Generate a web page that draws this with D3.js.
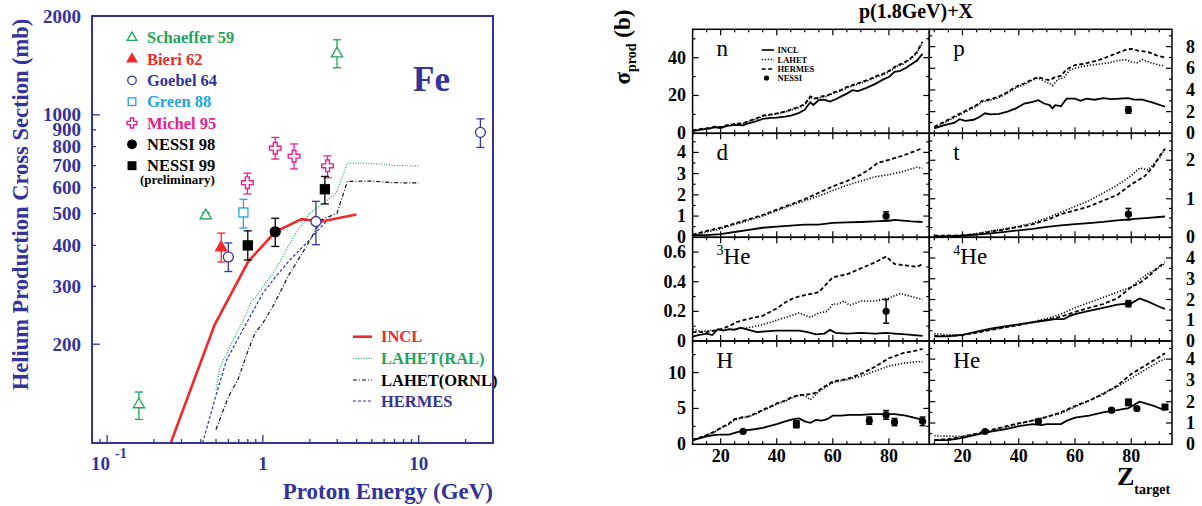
<!DOCTYPE html>
<html><head><meta charset="utf-8">
<script src="https://cdn.jsdelivr.net/npm/d3@7"></script>
<style>
body{margin:0;background:#fff}
svg{display:block}
text{font-family:"Liberation Serif","Times New Roman",Times,serif;font-weight:bold}
</style>
</head><body>
<script>
// ===================== LEFT CHART DATA (Fe) =====================
const energyTickMajor = [0.1, 1, 10];
const energyTickMinor = [0.09,0.2,0.3,0.4,0.5,0.6,0.7,0.8,0.9,2,3,4,5,6,7,8,9,20];
const sigmaTicks = [200,300,400,500,600,700,800,900,1000,2000];
const sigmaTickLabels = ["200","300","400","500","600","700","800","900","1000","2000"];

// experimental points: [E (GeV), sigma (mb), low, high]
const schaeffer59 = [[0.16,131,118,143],[0.43,493,483,503],[2.99,1535,1391,1693]];
const bieri62 = [[0.54,394,356,436]];
const goebel64 = [[0.60,369,333,407],[2.19,473,402,545],[24.9,884,795,972]];
const green88 = [[0.75,504,452,553]];
const michel95 = [[0.795,621,574,664],[1.2,791,733,853],[1.585,748,684,815],[2.6,699,643,750]];
const nessi98 = [[1.2,440,397,484]];
const nessi99 = [[0.8,400,361,443],[2.5,593,535,649]];

// model curves: [E, sigma]
const inclFe = [[0.256,100],[0.49,229],[0.805,357],[1.2,440],[1.77,481],[2.38,473],[3.98,497]];
const lahetRalFe = [[0.5,145],[0.53,170],[0.585,187],[0.645,206],[0.7,222],[0.785,248],[0.85,272],[0.91,279],[1.0,300],[1.16,329],[1.3,360],[1.49,406],[1.7,450],[2.0,501],[2.4,535],[2.96,577],[3.49,713],[4.5,712],[5.9,707],[7.0,700],[10,699]];
const lahetOrnlFe = [[0.5,110],[0.6,138],[0.695,157],[0.805,192],[0.89,216],[1.0,232],[1.16,261],[1.3,290],[1.45,322],[1.9,397],[2.38,479],[2.99,501],[3.49,627],[5.0,628],[6.9,621],[10,620]];
const hermesFe = [[0.41,100],[0.505,142],[0.585,179],[0.7,210],[0.805,237],[1.0,286],[1.2,320],[1.49,361],[1.9,406],[2.38,457],[2.6,478]];

// ===================== RIGHT CHART DATA p(1.8GeV)+X =====================
const zTicksMajor = [20,40,60,80];
// curves: [Z, sigma (b)]
const nINCL = [[10,1.2],[13,2],[16,2.5],[18,3.2],[20,2.8],[22,3.8],[25,4.5],[28,4.2],[30,5.3],[33,6.5],[35,7.6],[38,8.2],[40,8.3],[43,8.8],[45,9.4],[48,10.8],[50,12.5],[52,16.5],[53,15],[55,17.5],[57,17.8],[59,16.8],[61,18],[63,19.5],[65,21],[67,22.8],[69,22.3],[72,24],[75,26],[78,28.5],[80,29.8],[82,32.5],[84,33],[86,34.5],[88,36.5],[90,38.5],[92,42]];
const nHERMES = [[10,1.5],[13,2.3],[16,2.8],[18,3.5],[20,3.3],[22,4.2],[25,5],[28,5.3],[30,6.5],[33,8],[35,9.3],[38,10],[40,10.5],[43,11.5],[45,12.5],[48,14],[50,15.5],[52,19.5],[54,18.5],[56,19.5],[58,20],[60,21.5],[63,23],[65,24.5],[68,26],[70,27],[73,28.5],[75,30],[78,31.5],[80,33],[83,36],[85,37],[88,40],[90,43],[92,48.5]];
const nLAHET = [[10,1.4],[13,2.1],[16,2.7],[18,3.3],[20,3.1],[22,4],[25,4.8],[28,5.1],[30,6.2],[33,7.6],[35,9],[38,9.7],[40,10.2],[43,11.2],[45,12.2],[48,13.6],[50,15],[52,19],[54,18],[56,19],[58,19.6],[60,21],[63,22.5],[65,24],[68,25.5],[70,26.5],[73,28],[75,29.5],[78,31],[80,32.5],[83,35.5],[85,36.5],[88,39.5],[90,42.5],[92,48]];
const nNESSI = [];

const pINCL = [[10,0.45],[13,0.7],[15,0.85],[17,0.95],[19,1.3],[21,1.15],[24,1.25],[26,1.5],[28,1.85],[30,1.75],[33,1.8],[36,2.0],[39,2.3],[42,2.75],[45,2.9],[47,3.05],[49,2.75],[51,2.6],[52,2.3],[53,2.6],[55,2.5],[57,3.2],[60,3.2],[62,3.0],[64,3.2],[67,3.1],[70,3.25],[73,3.15],[76,3.2],[79,3.25],[81,3.1],[84,3.1],[88,2.8],[92,2.45]];
const pHERMES = [[10,0.6],[13,1.0],[16,1.4],[19,1.8],[22,2.2],[25,2.6],[27,3.0],[30,3.15],[33,3.4],[36,3.8],[39,4.3],[42,4.6],[45,5.0],[47,5.2],[49,5.0],[51,4.9],[53,5.2],[55,5.3],[57,5.9],[60,6.3],[63,6.4],[66,6.6],[69,6.8],[72,7.1],[75,7.4],[78,7.7],[80,7.8],[83,7.6],[86,7.5],[89,7.2],[92,7.0]];
const pLAHET = [[10,0.5],[13,0.9],[16,1.3],[19,1.7],[22,2.1],[25,2.5],[27,2.9],[30,3.05],[33,3.3],[36,3.7],[39,4.2],[42,4.5],[45,4.9],[47,5.1],[49,4.8],[51,4.6],[52,4.4],[54,5.0],[56,5.1],[58,5.8],[60,6.0],[63,6.2],[66,6.3],[69,6.4],[72,6.5],[75,6.7],[78,6.8],[80,6.6],[82,6.5],[84,6.8],[87,6.5],[90,6.3],[92,6.2]];
const pNESSI = [[79,2.15,0.3,"c"]];

const dINCL = [[10,0.1],[15,0.1],[20,0.15],[25,0.25],[30,0.35],[35,0.45],[40,0.5],[45,0.55],[50,0.6],[55,0.6],[60,0.68],[65,0.7],[70,0.72],[75,0.75],[80,0.78],[82,0.82],[84,0.8],[88,0.75],[92,0.72]];
const dHERMES = [[10,0.12],[15,0.3],[20,0.45],[25,0.65],[30,0.85],[35,1.05],[40,1.3],[45,1.55],[50,1.8],[55,2.1],[60,2.4],[65,2.65],[70,2.95],[73,3.2],[76,3.5],[80,3.65],[85,3.85],[90,4.1],[92,4.2]];
const dLAHET = [[10,0.1],[15,0.25],[20,0.4],[25,0.6],[30,0.8],[35,1.0],[40,1.25],[45,1.5],[50,1.72],[55,1.95],[60,2.2],[65,2.45],[70,2.65],[75,2.85],[80,2.95],[85,3.1],[90,3.3],[92,3.25]];
const dNESSI = [[79,1.0,0.2,"c"]];

const tINCL = [[10,0.02],[20,0.04],[25,0.07],[30,0.1],[35,0.14],[40,0.18],[45,0.22],[50,0.27],[55,0.31],[60,0.34],[65,0.37],[70,0.4],[75,0.44],[80,0.47],[85,0.5],[92,0.54]];
const tHERMES = [[10,0.04],[15,0.04],[20,0.05],[25,0.08],[30,0.15],[35,0.2],[40,0.27],[45,0.34],[50,0.45],[55,0.6],[60,0.7],[65,0.8],[70,0.95],[75,1.1],[80,1.37],[85,1.6],[88,1.85],[90,2.1],[92,2.3]];
const tLAHET = [[10,0.03],[15,0.03],[20,0.05],[25,0.1],[30,0.16],[35,0.22],[40,0.29],[45,0.37],[50,0.5],[55,0.65],[60,0.8],[65,0.95],[70,1.15],[75,1.35],[78,1.5],[80,1.6],[83,1.8],[86,1.75],[90,2.05],[92,2.3]];
const tNESSI = [[79,0.6,0.15,"c"]];

const he3INCL = [[10,0.03],[12,0.04],[15,0.05],[17,0.04],[19,0.08],[21,0.07],[23,0.08],[25,0.075],[27,0.09],[29,0.08],[31,0.07],[33,0.06],[36,0.065],[40,0.07],[45,0.07],[48,0.07],[51,0.06],[54,0.045],[57,0.05],[59,0.075],[61,0.055],[65,0.05],[70,0.055],[75,0.05],[79,0.055],[82,0.05],[86,0.045],[92,0.035]];
const he3HERMES = [[10,0.06],[15,0.06],[18,0.07],[20,0.08],[23,0.1],[26,0.13],[30,0.15],[35,0.17],[40,0.22],[43,0.26],[46,0.29],[50,0.31],[55,0.33],[58,0.39],[60,0.43],[65,0.45],[70,0.49],[75,0.53],[79,0.57],[82,0.52],[86,0.51],[90,0.5],[92,0.52]];
const he3LAHET = [[10,0.08],[13,0.065],[16,0.07],[20,0.075],[25,0.08],[30,0.09],[35,0.11],[40,0.14],[45,0.17],[48,0.19],[50,0.175],[52,0.16],[55,0.19],[58,0.2],[60,0.25],[62,0.25],[64,0.27],[66,0.24],[70,0.27],[75,0.27],[80,0.29],[84,0.32],[88,0.3],[92,0.28]];
const he3NESSI = [[79,0.2,0.08,"c"]];

const he4INCL = [[10,0.22],[15,0.22],[20,0.3],[25,0.45],[30,0.6],[35,0.7],[40,0.8],[45,0.9],[50,1.0],[53,1.05],[56,1.05],[58,1.2],[60,1.3],[65,1.45],[70,1.6],[75,1.75],[80,1.82],[83,2.05],[86,1.9],[90,1.65],[92,1.55]];
const he4HERMES = [[10,0.25],[15,0.25],[20,0.28],[25,0.4],[30,0.53],[35,0.65],[40,0.77],[45,0.9],[50,1.03],[55,1.17],[60,1.4],[65,1.6],[70,1.78],[75,2.05],[80,2.6],[83,2.8],[86,3.1],[90,3.6],[92,3.8]];
const he4LAHET = [[10,0.35],[15,0.3],[20,0.3],[25,0.42],[30,0.55],[35,0.67],[40,0.8],[45,0.93],[50,1.08],[55,1.3],[60,1.6],[65,1.85],[70,2.1],[75,2.35],[80,2.6],[83,2.95],[86,3.25],[90,3.55],[92,3.75]];
const he4NESSI = [[79,1.8,0.15,"c"]];

const hINCL = [[10,0.55],[13,0.9],[15,1.1],[18,1.3],[20,1.35],[23,1.35],[25,1.6],[28,1.9],[32,2.1],[35,2.3],[38,2.6],[40,2.8],[43,3.2],[46,3.5],[48,3.6],[50,3.2],[52,3.0],[54,3.4],[56,3.3],[58,3.5],[60,4.0],[63,4.0],[66,4.1],[70,4.1],[74,4.2],[78,4.2],[82,4.2],[86,4.0],[90,3.6],[92,3.4]];
const hHERMES = [[10,0.65],[13,1.0],[15,1.3],[18,1.8],[20,2.3],[23,2.9],[25,3.5],[28,3.8],[30,3.9],[33,4.4],[35,4.8],[38,5.3],[40,5.7],[43,6.1],[45,6.5],[48,6.9],[50,6.9],[52,7.0],[54,7.2],[56,7.8],[60,8.75],[65,9.1],[70,9.8],[75,10.8],[80,12.0],[85,12.7],[90,13.1],[92,13.3]];
const hLAHET = [[10,0.6],[13,0.95],[15,1.25],[18,1.75],[20,2.2],[23,2.8],[25,3.4],[28,3.7],[30,3.85],[33,4.3],[35,4.7],[38,5.2],[40,5.6],[43,6.0],[45,6.4],[48,6.8],[50,6.8],[52,6.2],[54,7.0],[56,7.6],[60,8.6],[65,9.0],[70,9.5],[75,10.2],[80,10.9],[85,11.3],[90,11.5],[92,11.5]];
const hNESSI = [[28,1.8,0.2,"c"],[47,2.8,0.5,"s"],[73,3.3,0.5,"c"],[79,4.1,0.6,"c"],[82,3.1,0.5,"c"],[92,3.2,0.6,"c"]];

const heINCL = [[10,0.2],[15,0.2],[20,0.3],[25,0.45],[30,0.6],[35,0.7],[40,0.85],[45,0.95],[48,0.9],[50,0.95],[55,0.95],[57,1.1],[60,1.25],[65,1.35],[70,1.5],[75,1.6],[79,1.7],[83,2.0],[88,1.8],[92,1.6]];
const heHERMES = [[10,0.2],[15,0.25],[20,0.35],[25,0.5],[30,0.67],[35,0.83],[40,0.99],[45,1.12],[50,1.28],[55,1.5],[60,1.8],[65,2.05],[70,2.35],[75,2.75],[80,3.3],[85,3.7],[90,4.1],[92,4.27]];
const heLAHET = [[10,0.4],[15,0.38],[20,0.38],[25,0.5],[30,0.62],[35,0.78],[40,0.95],[45,1.12],[50,1.3],[55,1.45],[60,1.75],[65,2.05],[70,2.4],[75,2.7],[80,3.1],[85,3.5],[90,3.9],[92,4.0]];
const heNESSI = [[28,0.6,0.08,"c"],[47,1.08,0.1,"c"],[73,1.6,0.08,"c"],[79,1.97,0.15,"s"],[82,1.68,0.08,"c"],[92,1.75,0.1,"s"]];

// ===================== DRAWING =====================
const W = 1202, H = 506;
const BLUE = "#333399";
const svg = d3.select("body").append("svg").attr("width", W).attr("height", H);
const defs = svg.append("defs");

// ---------- Left chart ----------
const L = {x0: 92, x1: 493, y0: 16, y1: 443};
const xL = d3.scaleLog().domain([0.08, 30]).range([L.x0, L.x1]);
const yL = d3.scaleLog().domain([100, 2000]).range([L.y1, L.y0]);
defs.append("clipPath").attr("id", "clipL").append("rect")
  .attr("x", L.x0).attr("y", L.y0).attr("width", L.x1 - L.x0).attr("height", L.y1 - L.y0);
const gL = svg.append("g");

// ticks
sigmaTicks.forEach((v, i) => {
  if (v < 2000) {
    const len = (v === 1000 || v === 200) ? 8 : 4;
    gL.append("line").attr("x1", L.x0).attr("x2", L.x0 + len).attr("y1", yL(v)).attr("y2", yL(v))
      .attr("stroke", BLUE).attr("stroke-width", 1.3);
  }
  gL.append("text").attr("x", 81).attr("y", yL(v) + 6.5).attr("text-anchor", "end")
    .attr("font-size", 19).attr("fill", BLUE).text(sigmaTickLabels[i]);
});
energyTickMajor.forEach(v => {
  gL.append("line").attr("x1", xL(v)).attr("x2", xL(v)).attr("y1", L.y1).attr("y2", L.y1 - 8)
    .attr("stroke", BLUE).attr("stroke-width", 1.3);
});
energyTickMinor.forEach(v => {
  gL.append("line").attr("x1", xL(v)).attr("x2", xL(v)).attr("y1", L.y1).attr("y2", L.y1 - 4)
    .attr("stroke", BLUE).attr("stroke-width", 1.3);
});
// x labels
gL.append("text").attr("x", xL(0.1) + 3).attr("y", 470).attr("text-anchor", "end")
  .attr("font-size", 19).attr("fill", BLUE).text("10");
gL.append("text").attr("x", xL(0.1) + 8).attr("y", 458).attr("text-anchor", "start")
  .attr("font-size", 14).attr("fill", BLUE).text("-1");
gL.append("text").attr("x", xL(1)).attr("y", 470).attr("text-anchor", "middle")
  .attr("font-size", 19).attr("fill", BLUE).text("1");
gL.append("text").attr("x", xL(10)).attr("y", 470).attr("text-anchor", "middle")
  .attr("font-size", 19).attr("fill", BLUE).text("10");

// axis titles
gL.append("text").attr("transform", `translate(28,${(L.y0 + 393) / 2}) rotate(-90)`)
  .attr("text-anchor", "middle").attr("font-size", 22.5).attr("fill", BLUE)
  .text("Helium Production Cross Section (mb)");
gL.append("text").attr("x", 493).attr("y", 499).attr("text-anchor", "end")
  .attr("font-size", 23).attr("fill", BLUE).text("Proton Energy (GeV)");
gL.append("text").attr("x", 413).attr("y", 91).attr("font-size", 35).attr("fill", BLUE).text("Fe");

// curves
const lineL = d3.line().x(d => xL(d[0])).y(d => yL(d[1]));
const gCurves = gL.append("g").attr("clip-path", "url(#clipL)");
const modelStyles = [
  {data: lahetRalFe, color: "#1fa35a", dash: "1,1.6", w: 1.2, name: "LAHET(RAL)"},
  {data: lahetOrnlFe, color: "#111", dash: "4,2,1,2", w: 1.2, name: "LAHET(ORNL)"},
  {data: hermesFe, color: "#3535a0", dash: "3,2", w: 1.2, name: "HERMES"},
  {data: inclFe, color: "#ee2a2a", dash: null, w: 2.6, name: "INCL"}
];
modelStyles.forEach(s => {
  gCurves.append("path").attr("d", lineL(s.data)).attr("fill", "none")
    .attr("stroke", s.color).attr("stroke-width", s.w).attr("stroke-dasharray", s.dash);
});

// markers
function marker(g, type, x, y, color, scale) {
  const k = scale || 1;
  if (type === "triOpen" || type === "triFill") {
    g.append("path").attr("transform", `translate(${x},${y})`)
      .attr("d", d3.symbol().type(d3.symbolTriangle).size(55 * k * k)())
      .attr("fill", type === "triFill" ? color : "#fff").attr("stroke", color).attr("stroke-width", 1.3);
  } else if (type === "circOpen" || type === "circFill") {
    g.append("circle").attr("cx", x).attr("cy", y).attr("r", 5 * k)
      .attr("fill", type === "circFill" ? color : "#fff").attr("stroke", color).attr("stroke-width", 1.3);
  } else if (type === "sqOpen" || type === "sqFill") {
    const s = 9 * k;
    g.append("rect").attr("x", x - s / 2).attr("y", y - s / 2).attr("width", s).attr("height", s)
      .attr("fill", type === "sqFill" ? color : "#fff").attr("stroke", color).attr("stroke-width", 1.3);
  } else if (type === "cross") {
    g.append("path").attr("transform", `translate(${x},${y})`)
      .attr("d", d3.symbol().type(d3.symbolCross).size(75 * k * k)())
      .attr("fill", "#fff").attr("stroke", color).attr("stroke-width", 1.4);
  }
}
const expSets = [
  {data: schaeffer59, type: "triOpen", color: "#1fa35a", name: "Schaeffer 59"},
  {data: bieri62, type: "triFill", color: "#ee2a2a", name: "Bieri 62"},
  {data: goebel64, type: "circOpen", color: "#3535a0", name: "Goebel 64"},
  {data: green88, type: "sqOpen", color: "#22a5de", name: "Green 88"},
  {data: michel95, type: "cross", color: "#e8208c", name: "Michel 95"},
  {data: nessi98, type: "circFill", color: "#000", name: "NESSI 98"},
  {data: nessi99, type: "sqFill", color: "#000", name: "NESSI 99"}
];
const gPts = gL.append("g");
expSets.forEach(s => {
  s.data.forEach(d => {
    const x = xL(d[0]);
    gPts.append("line").attr("x1", x).attr("x2", x).attr("y1", yL(d[2])).attr("y2", yL(d[3]))
      .attr("stroke", s.color).attr("stroke-width", 1.3);
    [d[2], d[3]].forEach(v => gPts.append("line").attr("x1", x - 4).attr("x2", x + 4)
      .attr("y1", yL(v)).attr("y2", yL(v)).attr("stroke", s.color).attr("stroke-width", 1.3));
    marker(gPts, s.type, x, yL(d[1]), s.color, 1);
  });
});

// legend (experiments)
const legRows = [37.7, 59, 80.3, 101.7, 123, 144.3, 165.7];
expSets.forEach((s, i) => {
  marker(gL, s.type, 132, legRows[i], s.color, 0.85);
  gL.append("text").attr("x", 147).attr("y", legRows[i] + 5.5).attr("font-size", 16.5)
    .attr("fill", s.color === "#000" ? "#000" : (s.color === "#3535a0" ? BLUE : s.color)).text(s.name);
});
gL.append("text").attr("x", 140).attr("y", 184).attr("font-size", 13).attr("fill", "#000").text("(preliminary)");

// legend (models)
const modelLeg = [modelStyles[3], modelStyles[0], modelStyles[1], modelStyles[2]];
const modelLegText = ["#ee2a2a", "#1fa35a", "#000", BLUE];
[336.7, 358.3, 380, 401].forEach((yy, i) => {
  const s = modelLeg[i];
  gL.append("line").attr("x1", 353).attr("x2", 372).attr("y1", yy).attr("y2", yy)
    .attr("stroke", s.color).attr("stroke-width", s.w).attr("stroke-dasharray", s.dash);
  gL.append("text").attr("x", 381).attr("y", yy + 5.5).attr("font-size", 16.5)
    .attr("fill", modelLegText[i]).text(s.name);
});

// frame
gL.append("rect").attr("x", L.x0).attr("y", L.y0).attr("width", L.x1 - L.x0).attr("height", L.y1 - L.y0)
  .attr("fill", "none").attr("stroke", BLUE).attr("stroke-width", 2);

// ---------- Right chart ----------
const colX = [[692.6, 929.3], [929.3, 1172]];
const colDom = [[10, 94.4], [8.2, 94.5]];
const rowY = [29.3, 133.3, 237.3, 341, 444.3];
const xR = colX.map((r, i) => d3.scaleLinear().domain(colDom[i]).range(r));

const panels = [
  {lab: "n", col: 0, row: 0, ymax: 55, ticks: [0, 20, 40], minor: 10, incl: nINCL, lahet: nLAHET, hermes: nHERMES, nessi: nNESSI},
  {lab: "p", col: 1, row: 0, ymax: 9.6, ticks: [0, 2, 4, 6, 8], minor: 1, incl: pINCL, lahet: pLAHET, hermes: pHERMES, nessi: pNESSI},
  {lab: "d", col: 0, row: 1, ymax: 4.9, ticks: [0, 1, 2, 3, 4], minor: 0.5, incl: dINCL, lahet: dLAHET, hermes: dHERMES, nessi: dNESSI},
  {lab: "t", col: 1, row: 1, ymax: 2.7, ticks: [0, 1, 2], minor: 0.25, incl: tINCL, lahet: tLAHET, hermes: tHERMES, nessi: tNESSI},
  {lab: "He", sup: "3", col: 0, row: 2, ymax: 0.7, ticks: [0, 0.2, 0.4, 0.6], minor: 0.1, incl: he3INCL, lahet: he3LAHET, hermes: he3HERMES, nessi: he3NESSI},
  {lab: "He", sup: "4", col: 1, row: 2, ymax: 5.0, ticks: [0, 1, 2, 3, 4], minor: 0.5, incl: he4INCL, lahet: he4LAHET, hermes: he4HERMES, nessi: he4NESSI},
  {lab: "H", col: 0, row: 3, ymax: 14.4, ticks: [0, 5, 10], minor: 2.5, incl: hINCL, lahet: hLAHET, hermes: hHERMES, nessi: hNESSI},
  {lab: "He", col: 1, row: 3, ymax: 4.85, ticks: [0, 1, 2, 3, 4], minor: 0.5, incl: heINCL, lahet: heLAHET, hermes: heHERMES, nessi: heNESSI}
];

const gR = svg.append("g");
panels.forEach((p, pi) => {
  const x = xR[p.col];
  const [px0, px1] = colX[p.col];
  const py0 = rowY[p.row], py1 = rowY[p.row + 1];
  const y = d3.scaleLinear().domain([0, p.ymax]).range([py1, py0]);
  const g = gR.append("g");
  defs.append("clipPath").attr("id", "clipP" + pi).append("rect")
    .attr("x", px0).attr("y", py0).attr("width", px1 - px0).attr("height", py1 - py0);

  // x ticks (inward, top and bottom)
  for (let z = 10; z <= 90; z += 5) {
    const major = zTicksMajor.includes(z);
    const len = major ? 6 : 3;
    const xx = x(z);
    g.append("line").attr("x1", xx).attr("x2", xx).attr("y1", py1).attr("y2", py1 - len).attr("stroke", "#000").attr("stroke-width", 1.2);
    g.append("line").attr("x1", xx).attr("x2", xx).attr("y1", py0).attr("y2", py0 + len).attr("stroke", "#000").attr("stroke-width", 1.2);
  }
  // y ticks (inward, left and right)
  const nMinor = Math.floor(p.ymax / p.minor + 1e-6);
  for (let k = 1; k <= nMinor; k++) {
    const v = k * p.minor;
    const major = p.ticks.some(t => Math.abs(t - v) < 1e-6);
    const len = major ? 6 : 3;
    const yy = y(v);
    g.append("line").attr("x1", px0).attr("x2", px0 + len).attr("y1", yy).attr("y2", yy).attr("stroke", "#000").attr("stroke-width", 1.2);
    g.append("line").attr("x1", px1).attr("x2", px1 - len).attr("y1", yy).attr("y2", yy).attr("stroke", "#000").attr("stroke-width", 1.2);
  }
  // y tick labels
  p.ticks.forEach(t => {
    const txt = g.append("text").attr("y", y(t) + 6).attr("font-size", 18).attr("fill", "#000").text(String(t));
    if (p.col === 0) txt.attr("x", 686).attr("text-anchor", "end");
    else txt.attr("x", 1186).attr("text-anchor", "start");
  });

  // curves
  const line = d3.line().x(d => x(d[0])).y(d => y(d[1]));
  const gc = g.append("g").attr("clip-path", `url(#clipP${pi})`);
  gc.append("path").attr("d", line(p.lahet)).attr("fill", "none").attr("stroke", "#000")
    .attr("stroke-width", 1.6).attr("stroke-dasharray", "1.2,1.8");
  gc.append("path").attr("d", line(p.hermes)).attr("fill", "none").attr("stroke", "#000")
    .attr("stroke-width", 1.8).attr("stroke-dasharray", "4,2.5");
  gc.append("path").attr("d", line(p.incl)).attr("fill", "none").attr("stroke", "#000")
    .attr("stroke-width", 1.8);

  // NESSI points
  p.nessi.forEach(d => {
    const xx = x(d[0]);
    const lo = y(d[1] - d[2]), hi = y(d[1] + d[2]);
    g.append("line").attr("x1", xx).attr("x2", xx).attr("y1", lo).attr("y2", hi).attr("stroke", "#000").attr("stroke-width", 1.5);
    [lo, hi].forEach(v => g.append("line").attr("x1", xx - 3).attr("x2", xx + 3).attr("y1", v).attr("y2", v).attr("stroke", "#000").attr("stroke-width", 1.5));
    if (d[3] === "s") g.append("rect").attr("x", xx - 3.5).attr("y", y(d[1]) - 3.5).attr("width", 7).attr("height", 7).attr("fill", "#000");
    else g.append("circle").attr("cx", xx).attr("cy", y(d[1])).attr("r", 3.6).attr("fill", "#000");
  });

  // panel label
  const lx = px0 + 24;
  const lt = g.append("text").attr("x", lx).attr("y", py0 + 27).attr("font-size", 23)
    .style("font-weight", "normal").attr("fill", "#000");
  if (p.sup) {
    lt.append("tspan").attr("font-size", 14).attr("dy", -9).text(p.sup);
    lt.append("tspan").attr("dy", 9).text(p.lab);
  } else lt.text(p.lab);

  // frame
  g.append("rect").attr("x", px0).attr("y", py0).attr("width", px1 - px0).attr("height", py1 - py0)
    .attr("fill", "none").attr("stroke", "#000").attr("stroke-width", 1.5);
});

// x tick labels (bottom row)
[0, 1].forEach(c => {
  zTicksMajor.forEach(z => {
    gR.append("text").attr("x", xR[c](z)).attr("y", 462).attr("text-anchor", "middle")
      .attr("font-size", 18).attr("fill", "#000").text(String(z));
  });
});

// legend inside n panel
const legY = [50, 59.5, 69, 78];
const legNames = ["INCL", "LAHET", "HERMES", "NESSI"];
const legDash = [null, "1.2,1.8", "4,2.5"];
legNames.forEach((nm, i) => {
  if (i < 3) {
    gR.append("line").attr("x1", 761.7).attr("x2", 774).attr("y1", legY[i]).attr("y2", legY[i])
      .attr("stroke", "#000").attr("stroke-width", 1.6).attr("stroke-dasharray", legDash[i]);
  } else {
    gR.append("circle").attr("cx", 766.5).attr("cy", legY[i]).attr("r", 2.6).attr("fill", "#000");
  }
  gR.append("text").attr("x", 777.5).attr("y", legY[i] + 3).attr("font-size", 8.5).attr("fill", "#000").text(nm);
});

// titles
gR.append("text").attr("x", 916).attr("y", 18).attr("text-anchor", "middle").attr("font-size", 20)
  .attr("fill", "#000").text("p(1.8GeV)+X");
const yt = gR.append("text").attr("transform", "translate(630,47) rotate(-90)").attr("text-anchor", "middle")
  .attr("font-size", 23).attr("fill", "#000");
yt.append("tspan").text("σ");
yt.append("tspan").attr("font-size", 14).attr("dy", 6).text("prod");
yt.append("tspan").attr("dy", -6).text(" (b)");
const zt = gR.append("text").attr("x", 1117).attr("y", 485).attr("font-size", 26).attr("fill", "#000");
zt.append("tspan").text("Z");
zt.append("tspan").attr("font-size", 14).attr("dy", 9).text("target");
</script>
</body></html>
